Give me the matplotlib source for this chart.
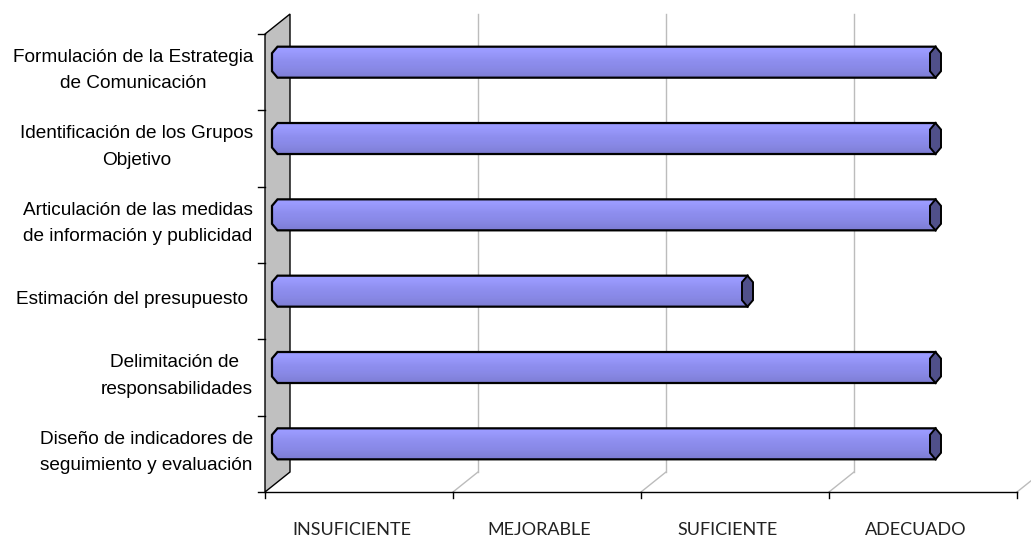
import numpy as np
import matplotlib.pyplot as plt
from matplotlib.patches import Polygon

# evaluation items (top to bottom) and their rating on the 4-level scale
categories = [
    "Formulación de la Estrategia\nde Comunicación",
    "Identificación de los Grupos\nObjetivo",
    "Articulación de las medidas\nde información y publicidad",
    "Estimación del presupuesto ",
    "Delimitación de \nresponsabilidades",
    "Diseño de indicadores de\nseguimiento y evaluación",
]
values = [3.5, 3.5, 3.5, 2.5, 3.5, 3.5]
levels = ["INSUFICIENTE", "MEJORABLE", "SUFICIENTE", "ADECUADO"]

W, H = 1031, 538
fig = plt.figure(figsize=(W / 100, H / 100), dpi=100)
ax = fig.add_axes([0, 0, 1, 1])

# pixel size of one scale step / one category row, and the front-bottom origin
px_x, px_y = 188.0, 76.33
x0_px, y0_px = 265, 492

n = len(categories)
nlev = len(levels)
dx, dy = 25 / px_x, 20 / px_y      # 3d depth offset

# side wall
wall = Polygon([(0, 0), (0, n), (dx, n + dy), (dx, dy)], closed=True,
               fc="#c0c0c0", ec="black", lw=1, zorder=1)
ax.add_patch(wall)

# back gridlines and their floor diagonals
for k in range(1, nlev + 1):
    ax.plot([k + dx, k + dx], [dy, n + dy], color="#bcbcbc", lw=1, zorder=0)
    ax.plot([k, k + dx], [0, dy], color="#bcbcbc", lw=1, zorder=0)

# floor axis with ticks
ax.plot([0, nlev], [0, 0], color="black", lw=1, zorder=2)
for k in range(nlev + 1):
    ax.plot([k, k], [0, -6 / px_y], color="black", lw=1, zorder=2)
# category ticks
for j in range(n + 1):
    ax.plot([-7 / px_x, 0], [j, j], color="black", lw=1, zorder=2)

# cylinder shading, top to bottom
shade = np.array([
    "#9c9cff", "#9b9bff", "#9898fb", "#9595f7", "#9191f2", "#8e8eee",
    "#8c8cec", "#8a8ae9", "#8888e5", "#8585e0", "#8282db", "#7e7ed5",
])
rgb = np.array([[int(c[i:i + 2], 16) / 255 for i in (1, 3, 5)] for c in shade])
grad = rgb[:, None, :]

hh = 15.5 / px_y
ex = 5.5 / px_x
ey = 9.0 / px_y
for i, (cat, v) in enumerate(zip(categories, values)):
    yc = n - i - 0.5 + dy / 2
    x1 = dx / 2
    x2 = v + dx / 2
    body = Polygon([(x1, yc + hh), (x2, yc + hh), (x2, yc - hh), (x1, yc - hh),
                    (x1 - ex, yc - ey), (x1 - ex, yc + ey)], closed=True,
                   fc="none", ec="black", lw=1.6, zorder=4)
    img = ax.imshow(grad, extent=[x1 - ex, x2, yc - hh, yc + hh], aspect="auto",
                    interpolation="bilinear", zorder=3)
    ax.add_patch(body)
    img.set_clip_path(body)
    cap = Polygon([(x2, yc + hh), (x2 + ex, yc + ey), (x2 + ex, yc - ey),
                   (x2, yc - hh), (x2 - ex, yc - ey), (x2 - ex, yc + ey)],
                  closed=True, fc="#50508a", ec="black", lw=1.4, zorder=5)
    ax.add_patch(cap)

    ax.text(-12 / px_x, n - i - 0.5 + 0.02, cat, ha="right", va="center",
            multialignment="center", family="Liberation Sans", fontsize=13.7,
            linespacing=1.72, color="black")

for k, lab in enumerate(levels):
    ax.text(k + 0.46, -0.5, lab, ha="center", va="center",
            family="Lato", fontsize=13, color="#222222")

ax.set_xlim(-x0_px / px_x, (W - x0_px) / px_x)
ax.set_ylim(-(H - y0_px) / px_y, y0_px / px_y)
ax.axis("off")

fig.savefig("out.png", dpi=100)
